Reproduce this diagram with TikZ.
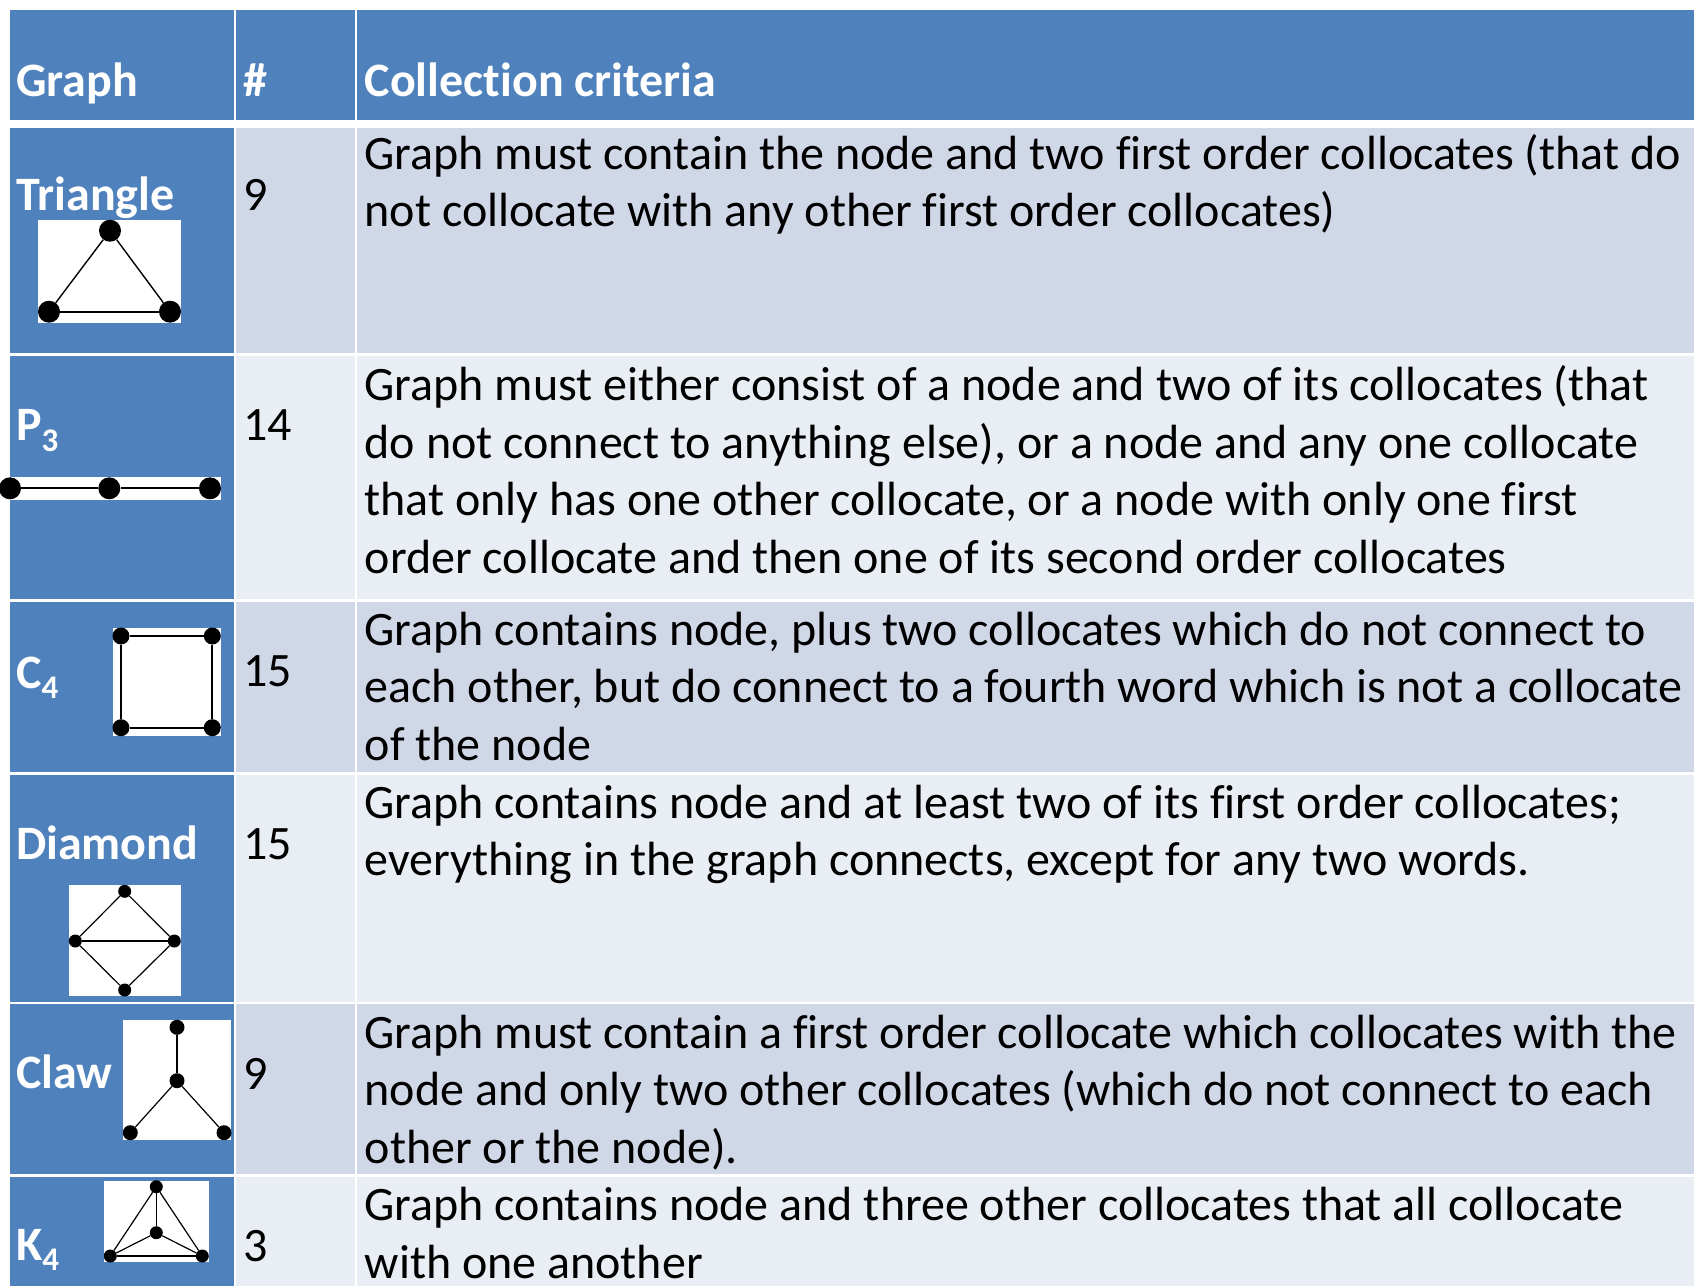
\documentclass[tikz,border=0pt]{standalone}
\usepackage{fontspec}
\setmainfont{Carlito}[Ligatures={NoCommon}]
\definecolor{hdr}{HTML}{4F81BD}
\definecolor{rowA}{HTML}{D0D8E8}
\definecolor{rowB}{HTML}{E9EDF4}
\begin{document}
\begin{tikzpicture}[x=1pt,y=-1pt,
  lbl/.style={font=\fontsize{48}{58}\selectfont\bfseries, text=white, anchor=base west, inner sep=0pt},
  txt/.style={font=\fontsize{48}{58}\selectfont, text=black, anchor=base west, inner sep=0pt},
  vtx/.style={circle, fill=black, inner sep=0pt, minimum size=#1},
  edg/.style={draw=black, line width=#1},
  icon/.style={fill=white, draw=none}]
\useasboundingbox (0,0) rectangle (1694,1286);
\fill[white] (0,0) rectangle (1694,1286);

% header row
\fill[hdr] (9.5,10) rectangle (234,120);
\fill[hdr] (236,10) rectangle (355,120);
\fill[hdr] (357,10) rectangle (1694,120);
\node[lbl] (hG) at (16,96) {Graph};
\node[lbl] (hN) at (243,96) {\#};
\node[lbl] (hC) at (364.5,96) {Collection criteria};

% body rows: top, bottom, fill colour
\foreach \t/\b/\c [count=\r] in {128.3/353/rowA, 356/599/rowB, 601.5/771.7/rowA,
                                 775/1002.3/rowB, 1004/1174/rowA, 1177/1286/rowB}{
  \fill[hdr] (9.5,\t) rectangle (234,\b);
  \fill[\c] (236,\t) rectangle (355,\b);
  \fill[\c] (357,\t) rectangle (1694,\b);
}

% graph names
\node[lbl] (gTri) at (16,210) {Triangle};
\node[lbl] (gP) at (16,440.7) {P\raisebox{-11pt}{\fontsize{33}{33}\selectfont 3}};
\node[lbl] (gC) at (16,688.3) {C\raisebox{-10pt}{\fontsize{33}{33}\selectfont 4}};
\node[lbl] (gD) at (16,859) {Diamond};
\node[lbl] (gCl) at (16,1088.3) {Claw};
\node[lbl] (gK) at (16,1260) {K\raisebox{-10pt}{\fontsize{33}{33}\selectfont 4}};

% counts
\node[txt] (n1) at (243,210.7) {9};
\node[txt] (n2) at (243,440.7) {14};
\node[txt] (n3) at (243,686.7) {15};
\node[txt] (n4) at (243,859.3) {15};
\node[txt] (n5) at (243,1089.3) {9};
\node[txt] (n6) at (243,1261.7) {3};

% criteria, one node per line
\foreach \l [count=\i] in {
  {Graph must contain the node and two first order collocates (that do},
  {not collocate with any other first order collocates)}}
  \node[txt] (cA\i) at (364.5,{169.3+57.6*(\i-1)}) {\l};
\foreach \l [count=\i] in {
  {Graph must either consist of a node and two of its collocates (that},
  {do not connect to anything else), or a node and any one collocate},
  {that only has one other collocate, or a node with only one first},
  {order collocate and then one of its second order collocates}}
  \node[txt] (cB\i) at (364.5,{400.7+57.6*(\i-1)}) {\l};
\foreach \l [count=\i] in {
  {Graph contains node, plus two collocates which do not connect to},
  {each other, but do connect to a fourth word which is not a collocate},
  {of the node}}
  \node[txt] (cC\i) at (364.5,{645+57.6*(\i-1)}) {\l};
\foreach \l [count=\i] in {
  {Graph contains node and at least two of its first order collocates;},
  {everything in the graph connects, except for any two words.}}
  \node[txt] (cD\i) at (364.5,{818.3+57.6*(\i-1)}) {\l};
\foreach \l [count=\i] in {
  {Graph must contain a first order collocate which collocates with the},
  {node and only two other collocates (which do not connect to each},
  {other or the node).}}
  \node[txt] (cE\i) at (364.5,{1048.3+57.6*(\i-1)}) {\l};
\foreach \l [count=\i] in {
  {Graph contains node and three other collocates that all collocate},
  {with one another}}
  \node[txt] (cF\i) at (364.5,{1220.7+57.6*(\i-1)}) {\l};

% triangle icon
\fill[icon] (38.3,220) rectangle (181,322.7);
\node[vtx=22] (ta) at (110,230.7) {};
\node[vtx=22] (tb) at (49,311.7) {};
\node[vtx=22] (tc) at (170,311.7) {};
\draw[edg=1.4] (ta) -- (tb);
\draw[edg=1.4] (ta) -- (tc);
\draw[edg=2.4] (tb) -- (tc);

% path P3 icon
\fill[icon] (0,477) rectangle (221,499.7);
\node[vtx=22] (pa) at (10,488.3) {};
\node[vtx=22] (pb) at (109.3,488.3) {};
\node[vtx=22] (pc) at (210,488.3) {};
\draw[edg=2] (pa) -- (pb);
\draw[edg=2] (pb) -- (pc);

% cycle C4 icon
\fill[icon] (113.3,627.7) rectangle (221,735.7);
\node[vtx=17] (qa) at (121,636) {};
\node[vtx=17] (qb) at (212.3,636) {};
\node[vtx=17] (qc) at (212.3,727.7) {};
\node[vtx=17] (qd) at (121,727.7) {};
\draw[edg=2] (qa) -- (qb) -- (qc) -- (qd) -- (qa);

% diamond icon
\fill[icon] (69,885.3) rectangle (181,996);
\node[vtx=13] (da) at (124.7,891.3) {};
\node[vtx=13] (db) at (75.3,941) {};
\node[vtx=13] (dc) at (174.3,941) {};
\node[vtx=13] (dd) at (124.7,990) {};
\draw[edg=1.2] (da) -- (db);
\draw[edg=1.2] (da) -- (dc);
\draw[edg=1.6] (db) -- (dc);
\draw[edg=1.2] (db) -- (dd);
\draw[edg=1.2] (dc) -- (dd);

% claw icon
\fill[icon] (123,1020.3) rectangle (231,1140);
\node[vtx=15] (ca) at (177,1027.3) {};
\node[vtx=15] (cb) at (177,1080.7) {};
\node[vtx=15] (cc) at (130.3,1132.7) {};
\node[vtx=15] (cd) at (224,1132.7) {};
\draw[edg=1.6] (ca) -- (cb);
\draw[edg=1.2] (cb) -- (cc);
\draw[edg=1.2] (cb) -- (cd);

% complete graph K4 icon
\fill[icon] (104,1180.7) rectangle (209,1262);
\node[vtx=13] (ka) at (156.3,1186.7) {};
\node[vtx=13] (kb) at (156.3,1232.7) {};
\node[vtx=13] (kc) at (110.3,1256) {};
\node[vtx=13] (kd) at (202.3,1256) {};
\draw[edg=1.2] (ka) -- (kc);
\draw[edg=1.2] (ka) -- (kd);
\draw[edg=1.6] (ka) -- (kb);
\draw[edg=1.2] (kb) -- (kc);
\draw[edg=1.2] (kb) -- (kd);
\draw[edg=1.6] (kc) -- (kd);
\end{tikzpicture}
\end{document}
